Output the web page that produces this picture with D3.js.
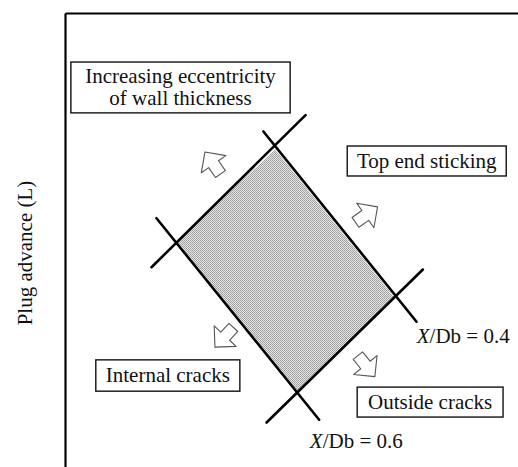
<!DOCTYPE html>
<html>
<head>
<meta charset="utf-8">
<script src="https://cdn.jsdelivr.net/npm/d3@7"></script>
<style>
  body { margin: 0; background: #fff; }
  svg { display: block; }
  text { font-family: "Liberation Serif", "Times New Roman", "DejaVu Serif", serif; fill: #111; }
</style>
</head>
<body>
<script>
// diagram values, in plot units (0..100 on both axes)
var regionVertices = [[46.4, 70.0], [72.6, 37.5], [51.4, 16.4], [24.8, 49.6]];   // top, right, bottom, left
var boundaryLines = [
  [[19.1, 44.0], [53.1, 77.5]],
  [[43.8, 73.9], [77.6, 32.0]],   // X/Db = 0.4
  [[79.0, 43.5], [44.5, 9.8]],
  [[20.2, 54.8], [56.1, 10.4]]    // X/Db = 0.6
];
var lineLabels = ["0.4", "0.6"];
var defectLabels = [["Increasing eccentricity", "of wall thickness"], ["Top end sticking"], ["Internal cracks"], ["Outside cracks"]];
var arrowTips = [[30.9, 69.4], [69.0, 57.3], [33.1, 26.4], [68.4, 19.9]];
var arrowAngles = [-125, -35, 133, 51];
var yLabel = "Plug advance (L)";

var svgWidth = 518;
var svgHeight = 467;
var margin = { top: 13, right: 0, bottom: 0, left: 65 };

var svg = d3.select("body")
  .append("svg")
  .attr("width", svgWidth)
  .attr("height", svgHeight);

var xScale = d3.scaleLinear().domain([0, 100]).range([margin.left, svgWidth - margin.right]);
var yScale = d3.scaleLinear().domain([0, 100]).range([svgHeight - margin.bottom, margin.top]);

// dotted halftone fill of the working region
var pat = svg.append("defs").append("pattern")
  .attr("id", "dots")
  .attr("width", 2).attr("height", 2)
  .attr("patternUnits", "userSpaceOnUse");
pat.append("rect").attr("width", 2).attr("height", 2).attr("fill", "#e6e6e6");
pat.append("rect").attr("width", 1).attr("height", 1).attr("fill", "#999");
pat.append("rect").attr("x", 1).attr("y", 1).attr("width", 1).attr("height", 1).attr("fill", "#a8a8a8");

svg.append("polygon")
  .attr("points", regionVertices.map(d => [xScale(d[0]), yScale(d[1])].join(",")).join(" "))
  .attr("fill", "url(#dots)");

// frame: left and top only
var leftAxis = d3.axisLeft(yScale).ticks(0).tickSizeOuter(0);
var topAxis = d3.axisTop(xScale).ticks(0).tickSizeOuter(0);
svg.append("g").attr("transform", `translate(${margin.left},0)`).call(leftAxis)
  .select(".domain").attr("stroke", "#000").attr("stroke-width", 2.2);
svg.append("g").attr("transform", `translate(0,${margin.top})`).call(topAxis)
  .select(".domain").attr("stroke", "#000").attr("stroke-width", 2.2);

// boundary lines
svg.selectAll(".bline")
  .data(boundaryLines)
  .enter()
  .append("line")
  .attr("class", "bline")
  .attr("x1", d => xScale(d[0][0]))
  .attr("y1", d => yScale(d[0][1]))
  .attr("x2", d => xScale(d[1][0]))
  .attr("y2", d => yScale(d[1][1]))
  .attr("stroke", "#000")
  .attr("stroke-width", 2.6)
  .attr("stroke-linecap", "round");

// X/Db labels
var lineLabelPos = [[87.9, 27.3], [64.3, 4.2]];
lineLabels.forEach(function(v, i) {
  var t = svg.append("text")
    .attr("x", xScale(lineLabelPos[i][0]))
    .attr("y", yScale(lineLabelPos[i][1]))
    .attr("text-anchor", "middle")
    .style("font-size", "21px");
  t.append("tspan").style("font-style", "italic").text("X");
  t.append("tspan").text("/Db = " + v);
});

// labelled boxes [x0, x1, yTop, yBottom] in plot units
var boxes = [[1.3, 49.7, 89.2, 78.0], [62.3, 97.4, 70.7, 64.1], [6.8, 38.6, 23.6, 16.7], [64.5, 96.7, 17.6, 11.0]];
defectLabels.forEach(function(lines, i) {
  var b = boxes[i];
  var x0 = xScale(b[0]), x1 = xScale(b[1]);
  var y0 = yScale(b[2]), y1 = yScale(b[3]);
  svg.append("rect")
    .attr("x", x0).attr("y", y0)
    .attr("width", x1 - x0).attr("height", y1 - y0)
    .attr("fill", "#fff")
    .attr("stroke", "#111")
    .attr("stroke-width", 1.4);
  var lh = 22;
  var cy = (y0 + y1) / 2 - (lines.length - 1) * lh / 2;
  lines.forEach(function(s, j) {
    svg.append("text")
      .attr("x", (x0 + x1) / 2)
      .attr("y", cy + j * lh)
      .attr("dy", "0.33em")
      .attr("text-anchor", "middle")
      .style("font-size", "21px")
      .text(s);
  });
});

// hollow block arrows
function arrowPath(h, w, s, L) {
  var p = [[0, 0], [-h, -w], [-h, -s], [-h - L, -s], [-h - L, s], [-h, s], [-h, w]];
  return "M" + p.map(q => q.join(",")).join("L") + "Z";
}
svg.selectAll(".arrow")
  .data(arrowTips)
  .enter()
  .append("path")
  .attr("class", "arrow")
  .attr("d", arrowPath(15, 15, 6, 12))
  .attr("transform", (d, i) => `translate(${xScale(d[0])},${yScale(d[1])}) rotate(${arrowAngles[i]})`)
  .attr("fill", "#fff")
  .attr("stroke", "#555")
  .attr("stroke-width", 1.1)
  .attr("stroke-linejoin", "round");

// y axis title
svg.append("text")
  .attr("transform", "translate(32,253) rotate(-90)")
  .attr("text-anchor", "middle")
  .style("font-size", "21px")
  .text(yLabel);
</script>
</body>
</html>
